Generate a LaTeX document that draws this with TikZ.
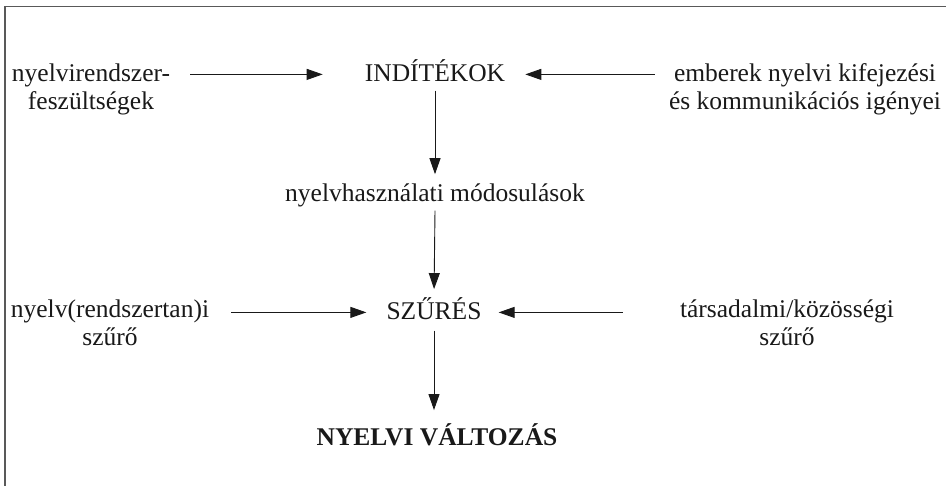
\documentclass[tikz,border=0pt]{standalone}
\usepackage{fontspec}
\setmainfont{Liberation Serif}
\usetikzlibrary{arrows.meta}
\begin{document}
\begin{tikzpicture}[x=1pt,y=-1pt,
  lbl/.style={inner sep=0pt, align=center, font=\fontsize{25.5}{28}\selectfont, text=black!90},
  arr/.style={draw=black!90, line width=0.9pt, -{Triangle[length=16pt,width=11pt]}},
  frame/.style={draw=black!65, line width=1.5pt}]
\useasboundingbox (0,0) rectangle (946,486);
\draw[frame] (5,486) -- (5,6.5) -- (946,6.5);

\node[lbl] (ind) at (435,74.4) {\strut INDÍTÉKOK};
\node[lbl] (nrs) at (91,90.4) {\strut nyelvirendszer-\\\strut feszültségek};
\node[lbl] (emb) at (805,90.4) {\strut emberek nyelvi kifejezési\\\strut és kommunikációs igényei};
\node[lbl] (mod) at (435,196.4) {\strut nyelvhasználati módosulások};
\node[lbl] (szu) at (434,312.4) {\strut SZŰRÉS};
\node[lbl] (nyr) at (110,326.4) {\strut nyelv(rendszertan)i\\\strut szűrő};
\node[lbl] (tar) at (787,326.4) {\strut társadalmi/közösségi\\\strut szűrő};
\node[lbl, font=\fontsize{25.5}{28}\selectfont\bfseries] (vat) at (437,438.4) {\strut NYELVI VÁLTOZÁS};

\draw[arr, shorten <=20pt, shorten >=42pt] (nrs.east |- ind.west) -- (ind.west);
\draw[arr, shorten <=14pt, shorten >=20pt] (emb.west |- ind.east) -- (ind.east);
\draw[arr, shorten <=1pt, shorten >=8pt] (ind.south) -- (mod.north);
\draw[arr, shorten <=0pt, shorten >=8pt] (mod.south) -- (szu.north);
\draw[arr, shorten <=22pt, shorten >=20pt] (nyr.east |- szu.west) -- (szu.west);
\draw[arr, shorten <=57pt, shorten >=17pt] (tar.west |- szu.east) -- (szu.east);
\draw[arr, shorten <=3pt, shorten >=13pt] (szu.south) -- (szu.south |- vat.north);
\end{tikzpicture}
\end{document}
